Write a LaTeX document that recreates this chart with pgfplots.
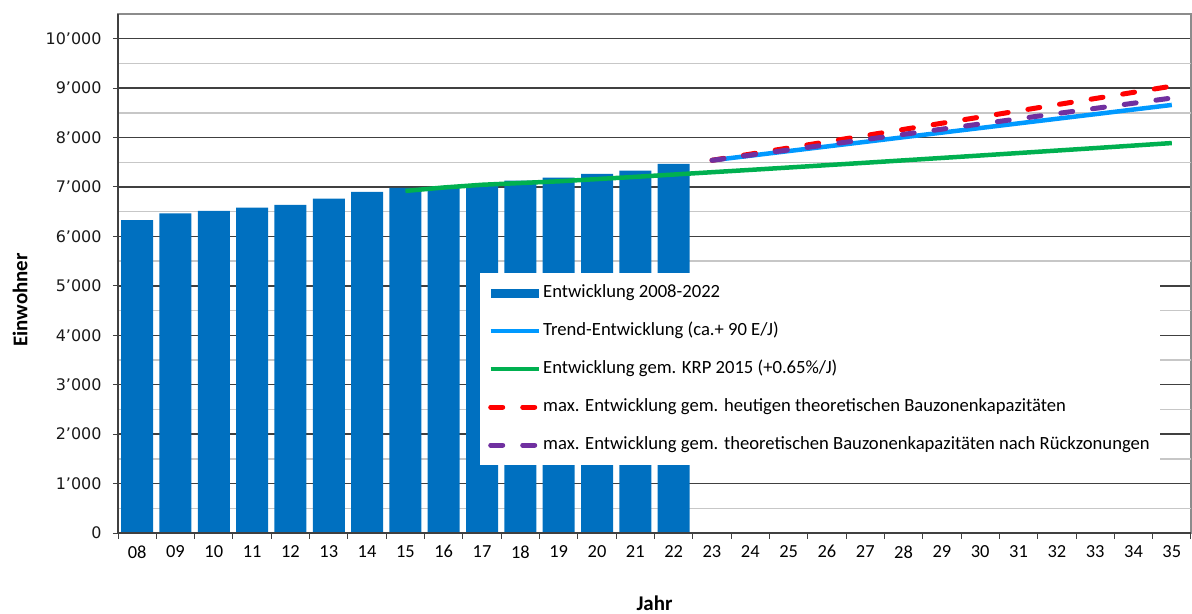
\documentclass[border=0pt]{standalone}
\usepackage{pgfplots}
\pgfplotsset{compat=1.18}
\usetikzlibrary{calc}
\usepackage{fontspec}
\setmainfont{Carlito}
\newfontfamily\dejavu{DejaVu Sans}
\definecolor{barblue}{RGB}{0,112,192}
\definecolor{trendblue}{RGB}{0,153,255}
\definecolor{krpgreen}{RGB}{0,176,80}
\definecolor{maxred}{RGB}{255,0,0}
\definecolor{maxpurple}{RGB}{112,48,160}
\pgfplotsset{
  linelegend/.style={legend image code/.code={\draw[##1] (6bp,0bp) -- (54bp,0bp);}},
  barlegend/.style={legend image code/.code={\fill[barblue] (6bp,-4.5bp) rectangle (54bp,4.5bp);}},
}
\begin{document}
\begin{tikzpicture}
\useasboundingbox (0,0) rectangle (1192bp,614bp);
\begin{axis}[
  at={(118bp,81bp)}, anchor=south west,
  scale only axis, width=1073bp, height=519bp,
  xmin=-0.5, xmax=27.5, ymin=0, ymax=10500,
  xtick={0,...,27},
  xticklabels={08,09,10,11,12,13,14,15,16,17,18,19,20,21,22,23,24,25,26,27,28,29,30,31,32,33,34,35},
  ytick={0,1000,...,10000},
  yticklabels={0,1’000,2’000,3’000,4’000,5’000,6’000,7’000,8’000,9’000,10’000},
  minor x tick num=0, minor y tick num=0,
  extra y ticks={500,1500,...,9500},
  extra y tick labels={},
  extra y tick style={grid=major, major grid style={draw=black!22, line width=1.5bp}, major tick length=0pt},
  xtick pos=bottom, ytick pos=left,
  tick align=outside,
  major tick length=5bp,
  tick style={draw=black!75, line width=1bp},
  major x tick style={draw=none},
  xmajorgrids=false, xminorgrids=false,
  ymajorgrids=true, yminorgrids=false,
  major grid style={draw=black!75, line width=1.3bp},
  axis line style={draw=black!45, line width=1.5bp},
  xticklabel style={font=\fontsize{18.5}{20}\selectfont, text=black, yshift=-4bp},
  yticklabel style={font=\dejavu\fontsize{16}{19}\selectfont, text=black!90, xshift=-8bp},
  xlabel={Jahr}, ylabel={Einwohner},
  xlabel style={at={(axis description cs:0.5,-0.1349)}, anchor=center, font=\bfseries\fontsize{21}{24}\selectfont},
  ylabel style={at={(axis description cs:-0.0913,0.449)}, anchor=center, font=\bfseries\fontsize{21}{24}\selectfont},
  legend cell align=left,
  legend style={at={(axis description cs:0.3374,0.501)}, anchor=north west, draw=none, fill=white,
    inner xsep=8bp, inner ysep=9bp, row sep=16bp, font=\fontsize{18.7}{22}\selectfont,
    nodes={text height=13.5bp, text depth=4.5bp}},
  after end axis/.code={
    \draw[black!75, line width=1.5bp] (rel axis cs:0,1) -- (rel axis cs:0,0) -- (rel axis cs:1,0);
    \foreach \k in {0,...,28} {
      \draw[black!75, line width=1bp] ($(rel axis cs:0,0)!\k/28!(rel axis cs:1,0)$) -- ++(0,-6bp);
    }
  },
]
\addplot[ybar, bar width=32bp, fill=barblue, draw=none, barlegend] coordinates {
 (0,6330) (1,6465) (2,6515) (3,6585) (4,6640) (5,6765) (6,6900) (7,6980)
 (8,6975) (9,7060) (10,7130) (11,7190) (12,7265) (13,7330) (14,7470)};
\addlegendentry{Entwicklung 2008-2022}
\addplot[trendblue, line width=4.5bp, linelegend] coordinates {
 (15,7540) (16,7633) (17,7727) (18,7820) (19,7913) (20,8007) (21,8100)
 (22,8193) (23,8287) (24,8380) (25,8473) (26,8567) (27,8660)};
\addlegendentry{Trend-Entwicklung (ca.+ 90 E/J)}
\addplot[krpgreen, line width=4.5bp, linelegend] coordinates {
 (7,6920) (8,6990) (9,7045) (10,7080) (11,7115) (12,7160) (13,7205) (14,7252)
 (15,7299) (16,7346) (17,7394) (18,7442) (19,7490) (20,7539) (21,7588)
 (22,7637) (23,7687) (24,7737) (25,7787) (26,7838) (27,7889)};
\addlegendentry{Entwicklung gem. KRP 2015 (+0.65\%/J)}
\addplot[maxred, line width=5bp, dash pattern=on 12bp off 20bp, line cap=round, linelegend] coordinates {
 (15,7540) (16,7665) (17,7790) (18,7915) (19,8040) (20,8165) (21,8290)
 (22,8415) (23,8540) (24,8665) (25,8790) (26,8915) (27,9040)};
\addlegendentry{max. Entwicklung gem. heutigen theoretischen Bauzonenkapazitäten}
\addplot[maxpurple, line width=5bp, dash pattern=on 12bp off 20bp, line cap=round, linelegend] coordinates {
 (15,7540) (16,7645) (17,7750) (18,7855) (19,7960) (20,8065) (21,8170)
 (22,8275) (23,8380) (24,8485) (25,8590) (26,8695) (27,8800)};
\addlegendentry{max. Entwicklung gem. theoretischen Bauzonenkapazitäten nach Rückzonungen}
\end{axis}
\end{tikzpicture}
\end{document}
